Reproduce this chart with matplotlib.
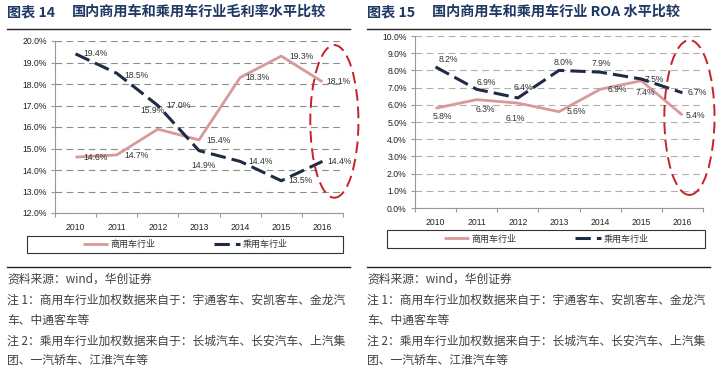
import matplotlib
matplotlib.use('Agg')
import matplotlib.pyplot as plt
from matplotlib.patches import Ellipse, Rectangle
from matplotlib.lines import Line2D
from matplotlib.ticker import FuncFormatter, FixedLocator

W, H = 719, 370

years = ['2010', '2011', '2012', '2013', '2014', '2015', '2016']
series_names = ['商用车行业', '乘用车行业']

# 毛利率 (%)
gross_commercial = [14.6, 14.7, 15.9, 15.4, 18.3, 19.3, 18.1]
gross_passenger = [19.4, 18.5, 17.0, 14.9, 14.4, 13.5, 14.4]
# ROA (%)
roa_commercial = [5.8, 6.3, 6.1, 5.6, 6.9, 7.4, 5.4]
roa_passenger = [8.2, 6.9, 6.4, 8.0, 7.9, 7.5, 6.7]

pink = '#D9999A'
navy = '#1F2B45'
red = '#C8202C'
title_blue = '#1F3864'
cjk = ['Noto Sans CJK SC', 'DejaVu Sans']

plt.rcParams['font.family'] = ['Liberation Sans', 'Noto Sans CJK SC']


def fx(x):
    return x / W


def fy(y):
    return 1 - y / H


# label offsets in pixels (dx, dy), one per point
left_off_c = [(20, 0), (20, -1), (-5, 19), (20, -1), (17, 0), (20, 0), (16, 0)]
left_off_p = [(20, 0), (20, -2), (21, 0), (5, -15), (20, 0), (19, 0), (17, 0)]
right_off_c = [(7, -8), (9, -10), (-3, -15), (17, 0), (17, 0), (4, -12), (13, 0)]
right_off_p = [(13, 7), (10, 7), (6, 10), (4, 8), (1, 9), (13, 0), (15, 0)]

fig = plt.figure(figsize=(W / 100, H / 100), dpi=100)


def panel(px_box, comm, pas, ylim, ystep, off_c, off_p, grid_col, ell, legend_box):
    x0, y0, x1, y1 = px_box
    ax = fig.add_axes([fx(x0), fy(y1), (x1 - x0) / W, (y1 - y0) / H])
    xs = list(range(len(years)))
    l1, = ax.plot(xs, comm, color=pink, lw=2.0, solid_capstyle='butt', zorder=2)
    l2, = ax.plot(xs, pas, color=navy, lw=2.2, dashes=(5, 2), zorder=2.5)
    for i in xs:
        ax.annotate(f'{comm[i]:.1f}%', (i, comm[i]), xytext=off_c[i], textcoords='offset pixels',
                    ha='center', va='center', fontsize=6.2, color='#333333')
        ax.annotate(f'{pas[i]:.1f}%', (i, pas[i]), xytext=off_p[i], textcoords='offset pixels',
                    ha='center', va='center', fontsize=6.2, color='#333333')
    ax.set_xlim(-0.5, len(years) - 0.5)
    ax.set_ylim(*ylim)
    yt = []
    v = ylim[0]
    while v <= ylim[1] + 1e-9:
        yt.append(round(v, 1))
        v += ystep
    ax.set_yticks(yt)
    ax.yaxis.set_major_formatter(FuncFormatter(lambda t, p: f'{t:.1f}%'))
    ax.set_xticks(xs)
    ax.set_xticklabels(years)
    ax.xaxis.set_minor_locator(FixedLocator([i - 0.5 for i in range(len(years) + 1)]))
    ax.tick_params(axis='x', which='major', length=0, pad=7, labelsize=6.2, labelcolor='#222222')
    ax.tick_params(axis='x', which='minor', length=3, color='#999999', width=0.8)
    ax.tick_params(axis='y', length=3, color='#999999', width=0.8, pad=3, labelsize=6.2,
                   labelcolor='#222222')
    for s in ['top', 'right']:
        ax.spines[s].set_visible(False)
    for s in ['left', 'bottom']:
        ax.spines[s].set_color('#999999')
        ax.spines[s].set_linewidth(0.8)
    ax.yaxis.grid(True, color=grid_col, lw=0.8, dashes=(6, 4))
    ax.set_axisbelow(True)
    ax.add_patch(Ellipse(ell[:2], ell[2], ell[3], fill=False, edgecolor=red, lw=1.4,
                         linestyle=(0, (6, 3)), clip_on=False, zorder=4))
    bx0, by0, bx1, by1 = legend_box
    fig.add_artist(Rectangle((fx(bx0), fy(by1)), (bx1 - bx0) / W, (by1 - by0) / H,
                             transform=fig.transFigure, fill=False, edgecolor='#333333', lw=0.8))
    ax.legend([l1, l2], series_names, loc='center', ncol=2, frameon=False,
              bbox_to_anchor=(fx((bx0 + bx1) / 2), fy((by0 + by1) / 2)),
              bbox_transform=fig.transFigure, prop={'family': cjk, 'size': 6.5},
              handlelength=2.8, handletextpad=0.3, columnspacing=6.5, labelcolor='#333333')
    return ax


panel((55, 41, 343, 213), gross_commercial, gross_passenger, (12, 20), 1.0,
      left_off_c, left_off_p, '#8C8C8C', (6.29, 16.26, 1.17, 7.1), (27, 236, 343, 253))
panel((415, 36, 703, 208), roa_commercial, roa_passenger, (0, 10), 1.0,
      right_off_c, right_off_p, '#AEAEAE', (6.17, 5.26, 1.22, 9.0), (387, 230, 705, 248))

# titles
for x_lab, x_main, num, main in [(7, 72, '图表 14', '国内商用车和乘用车行业毛利率水平比较'),
                                 (367, 432, '图表 15', '国内商用车和乘用车行业 ROA 水平比较')]:
    fig.text(fx(x_lab), fy(12), num, family=cjk, fontsize=10.2, fontweight='bold',
             color=title_blue, va='center', ha='left')
    fig.text(fx(x_main), fy(12), main, family=cjk, fontsize=10.2, fontweight='bold',
             color=title_blue, va='center', ha='left')

# separator lines
for xa, xb in [(7, 350), (367, 710)]:
    fig.add_artist(Line2D([fx(xa), fx(xb)], [fy(29), fy(29)], color='#222222', lw=1.0))
    fig.add_artist(Line2D([fx(xa), fx(xb)], [fy(267), fy(267)], color='#222222', lw=1.0))

notes = ['资料来源：wind，华创证券',
         '注 1：商用车行业加权数据来自于：宇通客车、安凯客车、金龙汽',
         '车、中通客车等',
         '注 2：乘用车行业加权数据来自于：长城汽车、长安汽车、上汽集',
         '团、一汽轿车、江淮汽车等']
note_y = [279, 300, 320, 341, 360]
for x0 in [7, 367]:
    for txt, yy in zip(notes, note_y):
        fig.text(fx(x0), fy(yy), txt, family=cjk, fontsize=8.5, color='#404040',
                 va='center', ha='left')

fig.savefig('out.png', dpi=100)
